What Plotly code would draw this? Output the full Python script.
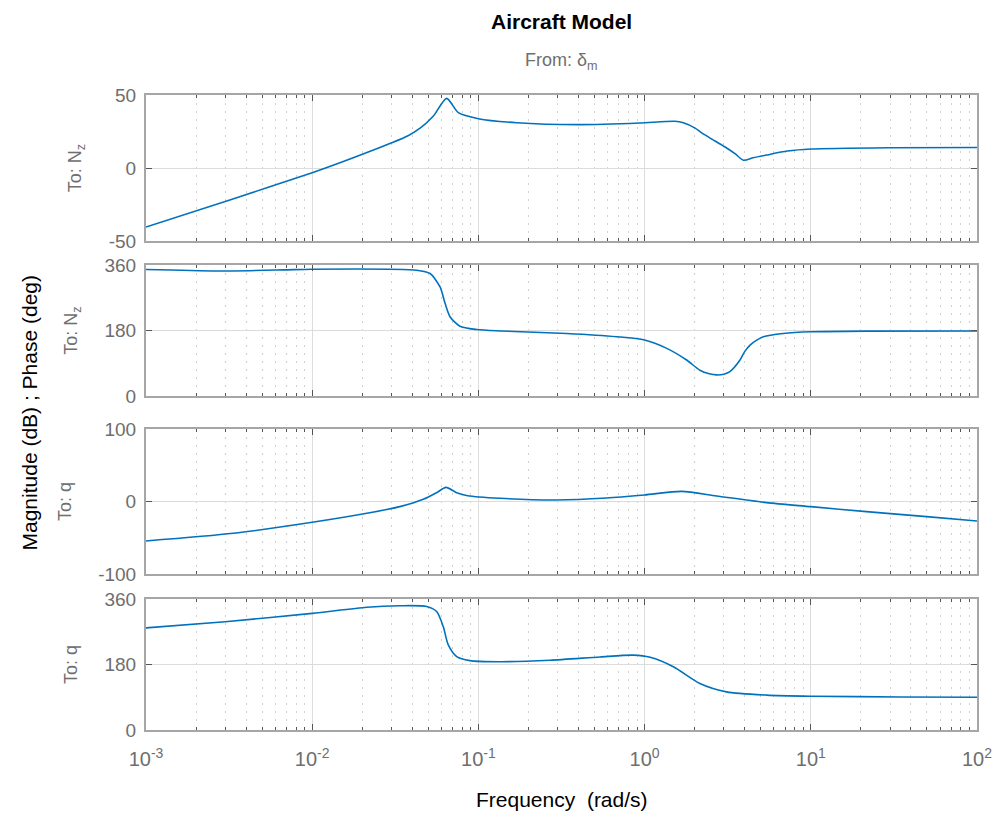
import plotly.graph_objects as go
from plotly.subplots import make_subplots

# ---- data ----
freq_nz_mag = [0.001, 0.00316, 0.01, 0.01687, 0.0301, 0.038, 0.045, 0.0536, 0.0644, 0.0757, 0.1, 0.17, 0.403,
               0.933, 1.52, 1.71, 2.0, 2.28, 2.65, 3.05, 3.5, 3.94, 4.5, 5.42, 7.23, 10.0, 30.6, 100.0]
nz_mag = [-40.4, -22.0, -3.2, 6.2, 17.3, 22.3, 27.6, 35.6, 47.7, 37.9, 33.8, 31.0, 29.7,
          30.8, 32.0, 31.0, 27.5, 23.0, 18.5, 14.4, 9.8, 5.3, 7.0, 8.9, 11.6, 13.0, 13.9, 14.1]

freq_nz_ph = [0.001, 0.00266, 0.0067, 0.01, 0.0425, 0.0512, 0.0588, 0.063, 0.0675, 0.0774, 0.0977, 0.135,
              0.34, 0.68, 1.0, 1.36, 1.79, 2.15, 2.45, 2.71, 3.0, 3.26, 3.75, 4.0, 4.31, 4.7, 5.18, 6.82,
              10.0, 21.6, 100.0]
nz_ph = [348, 344, 347, 349, 346, 337, 300, 255, 218, 192, 183, 179,
         172, 163, 154, 131, 99, 71, 61, 58, 60, 67, 99, 122, 140, 153, 163, 172,
         176.7, 178.6, 179]

freq_q_mag = [0.001, 0.00335, 0.01, 0.0213, 0.0337, 0.0466, 0.0561, 0.0638, 0.074, 0.0862, 0.135, 0.295,
              0.59, 1.0, 1.67, 2.71, 5.42, 10.0, 21.6, 49.7, 100.0]
q_mag = [-54.5, -43.9, -28.7, -16.3, -7.1, 3.0, 12.2, 19.5, 12.2, 8.0, 4.4, 2.1,
         4.8, 9.0, 14.0, 7.6, -1.6, -7.1, -14.0, -20.9, -26.9]

freq_q_ph = [0.001, 0.00299, 0.01, 0.0213, 0.0337, 0.0488, 0.0561, 0.0615, 0.0659, 0.074, 0.0889, 0.135,
             0.27, 0.538, 0.855, 1.08, 1.49, 2.15, 3.11, 5.42, 10.0, 34.4, 100.0]
q_ph = [281, 298, 321, 338, 342, 340, 326, 284, 234, 202, 191, 188,
        192, 201, 206, 200, 174, 128, 105, 96, 93, 91, 90]

x_tickvals = [1e-3, 1e-2, 1e-1, 1e0, 1e1, 1e2]
x_ticktext = ["10<sup>-3</sup>", "10<sup>-2</sup>", "10<sup>-1</sup>", "10<sup>0</sup>",
              "10<sup>1</sup>", "10<sup>2</sup>"]
minor_vals = [m * 10 ** e for e in range(-3, 2) for m in range(2, 10)]

row_titles = ["To: N<sub>z</sub>", "To: N<sub>z</sub>", "To: q", "To: q"]
y_ranges = [[-50, 50], [0, 360], [-100, 100], [0, 360]]
y_ticks = [[-50, 0, 50], [0, 180, 360], [-100, 0, 100], [0, 180, 360]]
y_ticktext = [["-50", "0", "50"], ["0", "180", "360"], ["-100", "0", "100"], ["0", "180", "360"]]
series = [(freq_nz_mag, nz_mag), (freq_nz_ph, nz_ph), (freq_q_mag, q_mag), (freq_q_ph, q_ph)]

FONT = "Liberation Sans, Arial, Helvetica, sans-serif"
GRAY = "#6e6e6e"
AX = "#a6a6a6"
BLUE = "#0072BD"

fig = make_subplots(rows=4, cols=1, shared_xaxes=False, vertical_spacing=0.02)

for i, (fx, fy) in enumerate(series, start=1):
    fig.add_trace(go.Scatter(x=fx, y=fy, mode="lines",
                             line=dict(color=BLUE, width=1.6, shape="spline", smoothing=0.7),
                             showlegend=False), row=i, col=1)

domains = [[0.770, 1.0], [0.526, 0.732], [0.2457, 0.474], [0.0, 0.206]]

for i in range(4):
    xa = "xaxis" if i == 0 else f"xaxis{i+1}"
    ya = "yaxis" if i == 0 else f"yaxis{i+1}"
    fig.layout[xa].update(
        type="log", range=[-3, 2], tickvals=x_tickvals, ticktext=x_ticktext,
        showticklabels=(i == 3), ticks="inside", ticklen=6, tickcolor="#555",
        showline=True, linecolor=AX, linewidth=2, mirror="ticks",
        showgrid=True, gridcolor="#dcdcdc", gridwidth=1, zeroline=False,
        tickfont=dict(family=FONT, size=20, color=GRAY), ticklabelstandoff=10,
        minor=dict(tickvals=minor_vals, ticks="inside", ticklen=3, tickcolor="#555",
                   showgrid=True, gridcolor="#cfcfcf", griddash="2px,6px", gridwidth=1),
        domain=[0, 1],
    )
    fig.layout[ya].update(
        range=y_ranges[i], tickvals=y_ticks[i], ticktext=y_ticktext[i], domain=domains[i],
        ticks="inside", ticklen=6, tickcolor="#555",
        showline=True, linecolor=AX, linewidth=2, mirror="ticks",
        showgrid=True, gridcolor="#dcdcdc", gridwidth=1, zeroline=False,
        tickfont=dict(family=FONT, size=19, color=GRAY), ticklabelstandoff=4,
        title=dict(text=row_titles[i], font=dict(family=FONT, size=18, color=GRAY), standoff=22),
    )

fig.add_annotation(text="<b>Aircraft Model</b>", xref="paper", yref="paper", x=0.5, y=1.115,
                   showarrow=False, yanchor="middle", font=dict(family=FONT, size=21, color="black"))
fig.add_annotation(text="From: δ<sub>m</sub>", xref="paper", yref="paper", x=0.5, y=1.052,
                   showarrow=False, yanchor="middle", font=dict(family=FONT, size=18, color=GRAY))
fig.add_annotation(text="Frequency  (rad/s)", xref="paper", yref="paper", x=0.5, y=-0.11,
                   showarrow=False, yanchor="middle", font=dict(family=FONT, size=21, color="black"))
fig.add_annotation(text="Magnitude (dB) ; Phase (deg)", xref="paper", yref="paper", x=-0.1396, y=0.5,
                   textangle=-90, showarrow=False, xanchor="center", yanchor="middle",
                   font=dict(family=FONT, size=21, color="black"))

fig.update_layout(width=995, height=813, margin=dict(l=138, r=26, t=87, b=91),
                  plot_bgcolor="white", paper_bgcolor="white", font=dict(family=FONT))

fig.write_html("out.html")
